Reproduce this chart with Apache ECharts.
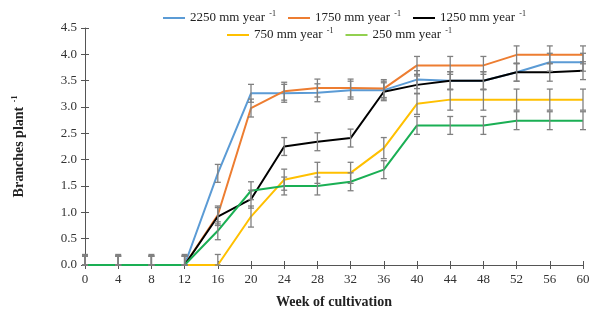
<!DOCTYPE html>
<html>
<head>
<meta charset="utf-8">
<script src="https://cdn.jsdelivr.net/npm/echarts@6/dist/echarts.min.js"></script>
<style>
  html, body { margin: 0; padding: 0; background: #fff; }
  #chart { width: 597px; height: 320px; }
</style>
</head>
<body>
<div id="chart"></div>
<script>
const weeks = [0, 4, 8, 12, 16, 20, 24, 28, 32, 36, 40, 44, 48, 52, 56, 60];

const mm2250 = [0, 0, 0, 0, 1.74, 3.26, 3.26, 3.27, 3.32, 3.32, 3.52, 3.5, 3.5, 3.66, 3.85, 3.85];
const mm1750 = [0, 0, 0, 0, 0.95, 2.98, 3.3, 3.36, 3.36, 3.35, 3.79, 3.79, 3.79, 3.99, 3.99, 3.99];
const mm1250 = [0, 0, 0, 0, 0.92, 1.25, 2.25, 2.34, 2.41, 3.29, 3.42, 3.5, 3.5, 3.66, 3.66, 3.69];
const mm750 = [0, 0, 0, 0, 0, 0.92, 1.62, 1.75, 1.75, 2.22, 3.06, 3.14, 3.14, 3.14, 3.14, 3.14];
const mm250 = [0, 0, 0, 0, 0.65, 1.41, 1.5, 1.5, 1.58, 1.81, 2.65, 2.65, 2.65, 2.74, 2.74, 2.74];

// half-width of the error bars, one per series
const errors = [0.17, 0.17, 0.17, 0.2, 0.17];

const names = ["2250 mm year", "1750 mm year", "1250 mm year", "750 mm year", "250 mm year"];
const colors = ["#5b9bd5", "#ed7d31", "#000000", "#ffc000", "#1aaf54"];
const legendColors = ["#5b9bd5", "#ed7d31", "#000000", "#ffc000", "#92d050"];
const values = [mm2250, mm1750, mm1250, mm750, mm250];

const serif = "Liberation Serif";
const chart = echarts.init(document.getElementById("chart"));

const lineSeries = values.map((vals, i) => ({
  name: names[i],
  type: "line",
  xAxisIndex: 0,
  yAxisIndex: 0,
  data: vals.map((v, j) => [weeks[j], v]),
  showSymbol: false,
  symbol: "none",
  lineStyle: { width: 2, color: colors[i] },
  itemStyle: { color: colors[i] },
  z: 3
}));

const errorSeries = values.map((vals, i) => ({
  type: "custom",
  xAxisIndex: 0,
  yAxisIndex: 0,
  silent: true,
  z: 4,
  data: vals.map((v, j) => [weeks[j], Math.max(0, v - errors[i]), v + errors[i]]),
  renderItem: (params, api) => {
    const x = api.value(0);
    const lo = api.coord([x, api.value(1)]);
    const hi = api.coord([x, api.value(2)]);
    const w = 3;
    const style = { stroke: "#808080", lineWidth: 1.3 };
    return {
      type: "group",
      children: [
        { type: "line", shape: { x1: hi[0], y1: hi[1], x2: lo[0], y2: lo[1] }, style },
        { type: "line", shape: { x1: hi[0] - w, y1: hi[1], x2: hi[0] + w, y2: hi[1] }, style },
        { type: "line", shape: { x1: lo[0] - w, y1: lo[1], x2: lo[0] + w, y2: lo[1] }, style }
      ]
    };
  }
}));

const legendText = {
  fontFamily: serif,
  color: "#222",
  rich: {
    n: { fontFamily: serif, fontSize: 13, color: "#222" },
    s: { fontFamily: serif, fontSize: 8, color: "#222", padding: [0, 0, 8, 1] }
  }
};
const legendFormat = (name) => "{n|" + name + " }{s|-1}";
const legendItem = (i) => ({ name: names[i], itemStyle: { color: legendColors[i] } });

chart.setOption({
  animation: false,
  backgroundColor: "#fff",
  grid: { left: 85, right: 14, top: 28, bottom: 55 },
  legend: [
    {
      top: 5, left: 158, itemWidth: 22, itemHeight: 2, icon: "rect", itemGap: 12,
      data: [0, 1, 2].map(legendItem), formatter: legendFormat, textStyle: legendText
    },
    {
      top: 22, left: 222, itemWidth: 22, itemHeight: 2, icon: "rect", itemGap: 12,
      data: [3, 4].map(legendItem), formatter: legendFormat, textStyle: legendText
    }
  ],
  xAxis: [
    {
      type: "value", min: 0, max: 60, interval: 4,
      name: "Week of cultivation", nameLocation: "middle", nameGap: 30,
      nameTextStyle: { fontFamily: serif, fontWeight: "bold", fontSize: 14, color: "#222" },
      axisLine: { lineStyle: { color: "#555", width: 1 } },
      axisTick: { show: true, length: 4, lineStyle: { color: "#555" } },
      axisLabel: { fontFamily: serif, fontSize: 13, color: "#333", margin: 8 },
      splitLine: { show: false }
    },
    {
      type: "value", min: 0, max: 60, interval: 4, position: "bottom",
      axisLine: { show: false },
      axisTick: { show: true, inside: true, length: 4, lineStyle: { color: "#555" } },
      axisLabel: { show: false },
      splitLine: { show: false }
    }
  ],
  yAxis: [
    {
      type: "value", min: 0, max: 4.5, interval: 0.5,
      name: "{b|Branches plant }{s|-1}", nameLocation: "middle", nameGap: 58,
      nameTextStyle: {
        rich: {
          b: { fontFamily: serif, fontWeight: "bold", fontSize: 14, color: "#222" },
          s: { fontFamily: serif, fontWeight: "bold", fontSize: 8, color: "#222", padding: [0, 0, 8, 1] }
        }
      },
      axisLine: { show: true, lineStyle: { color: "#555", width: 1 } },
      axisTick: { show: true, length: 4, lineStyle: { color: "#555" } },
      axisLabel: { fontFamily: serif, fontSize: 13, color: "#333", margin: 8, formatter: (v) => v.toFixed(1) },
      splitLine: { show: false }
    },
    {
      type: "value", min: 0, max: 4.5, interval: 0.5, position: "left",
      axisLine: { show: false },
      axisTick: { show: true, inside: true, length: 4, lineStyle: { color: "#555" } },
      axisLabel: { show: false },
      splitLine: { show: false }
    }
  ],
  series: [...lineSeries, ...errorSeries]
});
</script>
</body>
</html>
